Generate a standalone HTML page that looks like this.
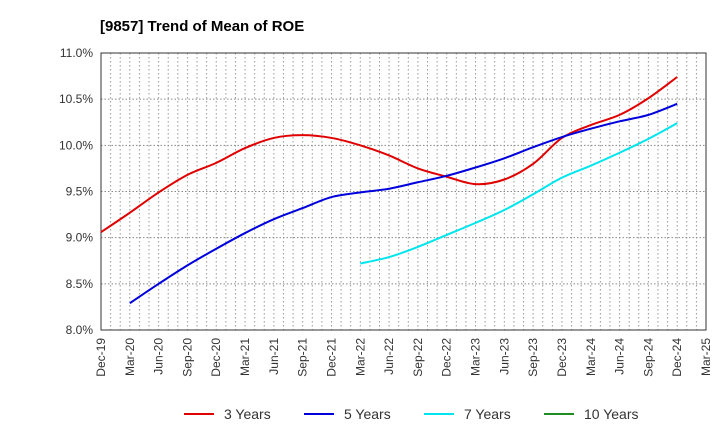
<!DOCTYPE html>
<html><head><meta charset="utf-8"><style>
body{margin:0;background:#fff;font-family:"Liberation Sans",sans-serif}
</style></head><body>
<svg id="c" width="720" height="440" xmlns="http://www.w3.org/2000/svg" font-family="Liberation Sans, sans-serif"></svg>
<script>
const xLabels=["Dec-19","Mar-20","Jun-20","Sep-20","Dec-20","Mar-21","Jun-21","Sep-21","Dec-21","Mar-22","Jun-22","Sep-22","Dec-22","Mar-23","Jun-23","Sep-23","Dec-23","Mar-24","Jun-24","Sep-24","Dec-24","Mar-25"];
const yTicks=[8.0,8.5,9.0,9.5,10.0,10.5,11.0];
const s3=[9.06,9.27,9.49,9.68,9.81,9.97,10.08,10.11,10.08,10.00,9.89,9.75,9.66,9.58,9.63,9.80,10.08,10.22,10.33,10.51,10.74];
const s3Start=0;
const s5=[8.29,8.50,8.70,8.88,9.05,9.20,9.32,9.44,9.49,9.53,9.60,9.67,9.76,9.86,9.98,10.09,10.18,10.26,10.33,10.45];
const s5Start=1;
const s7=[8.72,8.79,8.90,9.03,9.16,9.30,9.47,9.65,9.78,9.92,10.07,10.24];
const s7Start=9;
const s10=[];
const s10Start=0;
const L=101,R=706,T=53,B=330;
const X=i=>L+(R-L)*i/(xLabels.length-1);
const Y=v=>B-(v-8)/3*(B-T);
const svg=document.getElementById('c');
const NS='http://www.w3.org/2000/svg';
function mk(t,a,p){const e=document.createElementNS(NS,t);for(const k in a)e.setAttribute(k,a[k]);(p||svg).appendChild(e);return e;}
let e=mk('text',{x:100,y:31,'font-size':15,'font-weight':'bold',fill:'#000'});e.textContent='[9857]  Trend of Mean of ROE';


// vertical monthly grid
for(let m=1;m<63;m++){const x=L+(R-L)*m/63;e=mk('line',{x1:x,x2:x,y1:T,y2:B,stroke:'#999','stroke-dasharray':'1.5,2.5','stroke-width':1});

}
yTicks.forEach(v=>{const y=Y(v);
if(v>8&&v<11){e=mk('line',{x1:L,x2:R,y1:y,y2:y,stroke:'#888','stroke-dasharray':'1.5,2','stroke-width':1});

}
e=mk('text',{x:L-8,y:y+4,'font-size':12,'text-anchor':'end',fill:'#333'});e.textContent=v.toFixed(1)+'%';

});
xLabels.forEach((l,i)=>{const x=X(i);
e=mk('text',{transform:`translate(${x+4},${B+8}) rotate(-90)`,'font-size':12,'text-anchor':'end',fill:'#333'});e.textContent=l;

});
e=mk('rect',{x:L,y:T,width:R-L,height:B-T,fill:'none',stroke:'#333','stroke-width':1});


function path(vals,start){const p=vals.map((v,i)=>[X(start+i),Y(v)]);if(p.length<2)return '';
let d=`M${p[0][0]},${p[0][1]}`;
for(let i=0;i<p.length-1;i++){const p0=p[i-1]||p[i],p1=p[i],p2=p[i+1],p3=p[i+2]||p2;
d+=` C${p1[0]+(p2[0]-p0[0])/6},${p1[1]+(p2[1]-p0[1])/6} ${p2[0]-(p3[0]-p1[0])/6},${p2[1]-(p3[1]-p1[1])/6} ${p2[0]},${p2[1]}`;}
return d;}
const series=[[s3,s3Start,'#e00000','3 Years','line-3-years'],[s5,s5Start,'#0000dd','5 Years','line-5-years'],[s7,s7Start,'#00e5ee','7 Years','line-7-years'],[s10,s10Start,'#228b22','10 Years','line-10-years']];
series.forEach(([v,s,c,n,dn])=>{if(v.length>1){e=mk('path',{d:path(v,s),fill:'none',stroke:c,'stroke-width':2});

}});
const lx=[184,304,424,544];
series.forEach(([v,s,c,n],i)=>{const g=mk('g',{});


mk('line',{x1:lx[i],x2:lx[i]+30,y1:414,y2:414,stroke:c,'stroke-width':2},g);
const t=mk('text',{x:lx[i]+40,y:419,'font-size':14,fill:'#333'},g);t.textContent=n;});
</script>
</body></html>
